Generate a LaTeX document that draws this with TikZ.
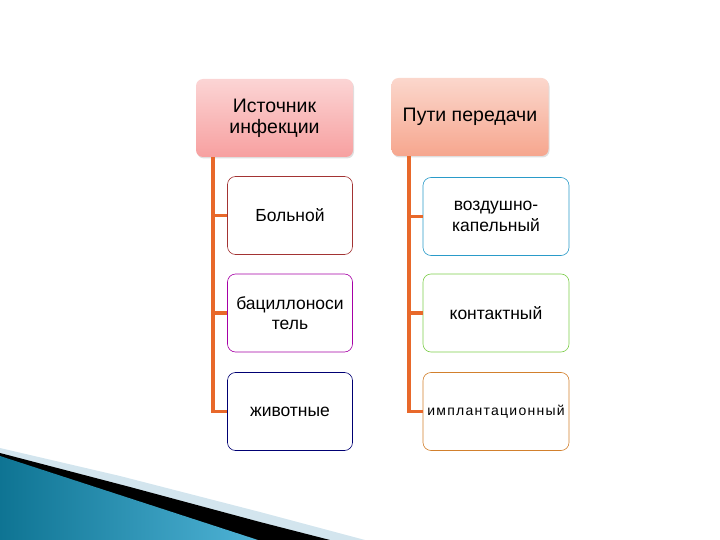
\documentclass[tikz,border=0pt]{standalone}
\usepackage{fontspec}
\setmainfont{Liberation Sans}
\usepackage{tikz}
\usetikzlibrary{shadows}
\definecolor{spineor}{HTML}{E8682A}
\definecolor{headpk}{HTML}{F7A0A0}
\definecolor{headsl}{HTML}{F6A68E}
\definecolor{decodark}{HTML}{0E7493}
\definecolor{decosky}{HTML}{4FB3D6}
\definecolor{decolight}{HTML}{D3E5EE}

\begin{document}
\begin{tikzpicture}[x=1pt,y=-1pt,
	headbox/.style={draw=none,rounded corners=7pt,minimum width=157pt,minimum height=78pt,
		align=center,font=\fontsize{19.5}{21}\selectfont,inner sep=0pt,
		drop shadow={shadow xshift=1pt,shadow yshift=-1.5pt,opacity=0.25}},
	itembox/.style={draw,fill=white,rounded corners=8pt,line width=0.6pt,align=center,
		minimum height=78pt,inner sep=0pt,font=\fontsize{17.5}{20.5}\selectfont},
	leftbox/.style={itembox,minimum width=125pt},
	rightbox/.style={itembox,minimum width=146pt},
	conn/.style={spineor,line width=3.5pt}]
	\useasboundingbox (0,0) rectangle (720,540);
	% bottom left decoration
	\fill[decolight] (0,448) -- (120,476) -- (260,512) -- (365,540) -- (0,540) -- cycle;
	\fill[black] (0,453) -- (130,487) -- (260,522) -- (330,540) -- (0,540) -- cycle;
	\shade[left color=decodark,right color=decosky]
		(0,456) -- (258,540) -- (0,540) -- cycle;
	% headers
	\node[headbox,top color=headpk!45!white,bottom color=headpk] (src) at (274.5,118) {Источник\\инфекции};
	\node[headbox,top color=headsl!45!white,bottom color=headsl] (way) at (470,117) {Пути передачи};
	% left column
	\node[leftbox,draw=red!55!black!80] (sick) at (290,215.5) {Больной};
	\node[leftbox,draw=violet!70!magenta] (carr) at (290,313) {бациллоноси\\тель};
	\node[leftbox,draw=blue!45!black] (anim) at (290,411.5) {животные};
	% right column
	\node[rightbox,draw=cyan!60!teal] (air) at (496,216.5) {воздушно-\\капельный};
	\node[rightbox,draw=green!45!olive!70] (cont) at (496,313) {контактный};
	\node[rightbox,draw=brown!70!orange,font=\fontsize{14}{16}\selectfont\addfontfeature{LetterSpace=9}] (impl) at (496,411.5) {имплантационный};
	% spines
	\coordinate (lsp) at (213,0);
	\coordinate (rsp) at (409,0);
	\draw[conn] (lsp |- src.south) |- (anim.west);
	\draw[conn] (lsp |- sick.west) -- (sick.west);
	\draw[conn] (lsp |- carr.west) -- (carr.west);
	\draw[conn] (rsp |- way.south) |- (impl.west);
	\draw[conn] (rsp |- air.west) -- (air.west);
	\draw[conn] (rsp |- cont.west) -- (cont.west);
\end{tikzpicture}
\end{document}
